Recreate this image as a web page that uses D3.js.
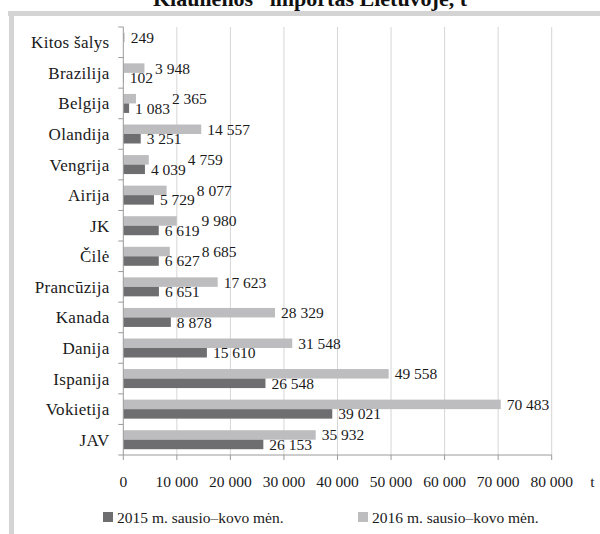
<!DOCTYPE html>
<html>
<head>
<meta charset="utf-8">
<script src="https://cdn.jsdelivr.net/npm/d3@7"></script>
<style>
  html, body { margin: 0; padding: 0; background: #fff; }
  svg { display: block; }
  svg text { font-family: 'Liberation Serif', 'Times New Roman', Times, 'DejaVu Serif', serif; }
</style>
</head>
<body>
<svg id="chart" width="600" height="534"></svg>
<script>
const categories = ["Kitos šalys", "Brazilija", "Belgija", "Olandija", "Vengrija", "Airija", "JK", "Čilė", "Prancūzija", "Kanada", "Danija", "Ispanija", "Vokietija", "JAV"];
const values2015 = [null, 102, 1083, 3251, 4039, 5729, 6619, 6627, 6651, 8878, 15610, 26548, 39021, 26153];
const values2016 = [249, 3948, 2365, 14557, 4759, 8077, 9980, 8685, 17623, 28329, 31548, 49558, 70483, 35932];
const seriesNames = ["2015 m. sausio–kovo mėn.", "2016 m. sausio–kovo mėn."];
const xTicks = [0, 10000, 20000, 30000, 40000, 50000, 60000, 70000, 80000];
const titleText = "Kiaulienos* importas Lietuvoje, t";
const unitText = "t";

const colDark = "#6e6e70";
const colLight = "#bdbdbf";
const fmt = v => d3.format(",")(v).replace(/,/g, " ");
const FONT = "'Liberation Serif', 'Times New Roman', Times, 'DejaVu Serif', serif";

const svg = d3.select("#chart").attr("font-family", FONT);

// frame
svg.append("rect").attr("x", 8).attr("y", 11).attr("width", 592).attr("height", 5).attr("fill", "#d4d4d4");
svg.append("rect").attr("x", 9).attr("y", 11).attr("width", 5).attr("height", 523).attr("fill", "#d4d4d4");

// cut-off title (as in the reference)
svg.append("text").attr("x", 310).attr("y", 6).attr("text-anchor", "middle")
  .attr("font-size", 22).attr("font-weight", "bold").attr("fill", "#111").text(titleText);

const x = d3.scaleLinear().domain([0, 80000]).range([123.3, 551.7]);
const y = d3.scaleBand().domain(categories).range([27, 455]);
const barH = 9.5;

// gridlines
svg.append("g").selectAll("line").data(xTicks.filter(t => t > 0)).join("line")
  .attr("x1", d => x(d)).attr("x2", d => x(d)).attr("y1", 27).attr("y2", 455)
  .attr("stroke", "#d6d6d6").attr("stroke-width", 1);

// bars
const rows = categories.map((c, i) => ({ c, v15: values2015[i], v16: values2016[i] }));
svg.append("g").selectAll("rect").data(rows.filter(d => d.v16 != null)).join("rect")
  .attr("x", x(0)).attr("y", d => y(d.c) + y.bandwidth() / 2 - barH)
  .attr("width", d => x(d.v16) - x(0)).attr("height", barH).attr("fill", colLight);
svg.append("g").selectAll("rect").data(rows.filter(d => d.v15 != null)).join("rect")
  .attr("x", x(0)).attr("y", d => y(d.c) + y.bandwidth() / 2)
  .attr("width", d => x(d.v15) - x(0)).attr("height", barH).attr("fill", colDark);

// y axis
const yAxisG = svg.append("g");
yAxisG.append("line").attr("x1", x(0)).attr("x2", x(0)).attr("y1", 27).attr("y2", 455)
  .attr("stroke", "#9a9a9a");
const bounds = categories.map(c => y(c)).concat([455]);
yAxisG.selectAll("line.t").data(bounds).join("line").attr("class", "t")
  .attr("x1", x(0) - 5).attr("x2", x(0)).attr("y1", d => d).attr("y2", d => d)
  .attr("stroke", "#9a9a9a");
yAxisG.selectAll("text").data(categories).join("text")
  .attr("x", 109.5).attr("y", d => y(d) + y.bandwidth() / 2).attr("dy", "0.35em")
  .attr("text-anchor", "end").attr("font-size", 17).attr("letter-spacing", 0.3)
  .attr("fill", "#1a1a1a").text(d => d);

// x axis
const xAxisG = svg.append("g");
xAxisG.append("line").attr("x1", x(0)).attr("x2", x(80000)).attr("y1", 455).attr("y2", 455)
  .attr("stroke", "#9a9a9a");
xAxisG.selectAll("line.t").data(xTicks).join("line").attr("class", "t")
  .attr("x1", d => x(d)).attr("x2", d => x(d)).attr("y1", 455).attr("y2", 460)
  .attr("stroke", "#9a9a9a");
xAxisG.selectAll("text").data(xTicks).join("text")
  .attr("x", d => x(d)).attr("y", 487).attr("text-anchor", "middle")
  .attr("font-size", 15.5).attr("fill", "#1a1a1a").text(d => fmt(d));
svg.append("text").attr("x", 592.5).attr("y", 487).attr("text-anchor", "middle")
  .attr("font-size", 15.5).attr("fill", "#1a1a1a").text(unitText);

// value labels
const lab = svg.append("g").attr("font-size", 15.5).attr("fill", "#1a1a1a");
rows.forEach(d => {
  let darkEnd = -Infinity;
  if (d.v15 != null) {
    const t = lab.append("text").attr("x", x(d.v15) + 6)
      .attr("y", y(d.c) + y.bandwidth() / 2 + barH / 2).attr("dy", "0.35em").text(fmt(d.v15));
    darkEnd = x(d.v15) + 6 + t.node().getComputedTextLength();
  }
  if (d.v16 != null) {
    const lx = Math.max(x(d.v16) + 6, darkEnd + 2);
    lab.append("text").attr("x", lx)
      .attr("y", y(d.c) + y.bandwidth() / 2 - barH / 2).attr("dy", "0.35em").text(fmt(d.v16));
  }
});

// legend
const leg = svg.append("g").attr("font-size", 15.5).attr("fill", "#1a1a1a");
const legX = [103, 358];
[colDark, colLight].forEach((c, i) => {
  leg.append("rect").attr("x", legX[i]).attr("y", 512).attr("width", 10).attr("height", 10).attr("fill", c);
  leg.append("text").attr("x", legX[i] + 14).attr("y", 522.5).text(seriesNames[i]);
});
</script>
</body>
</html>
